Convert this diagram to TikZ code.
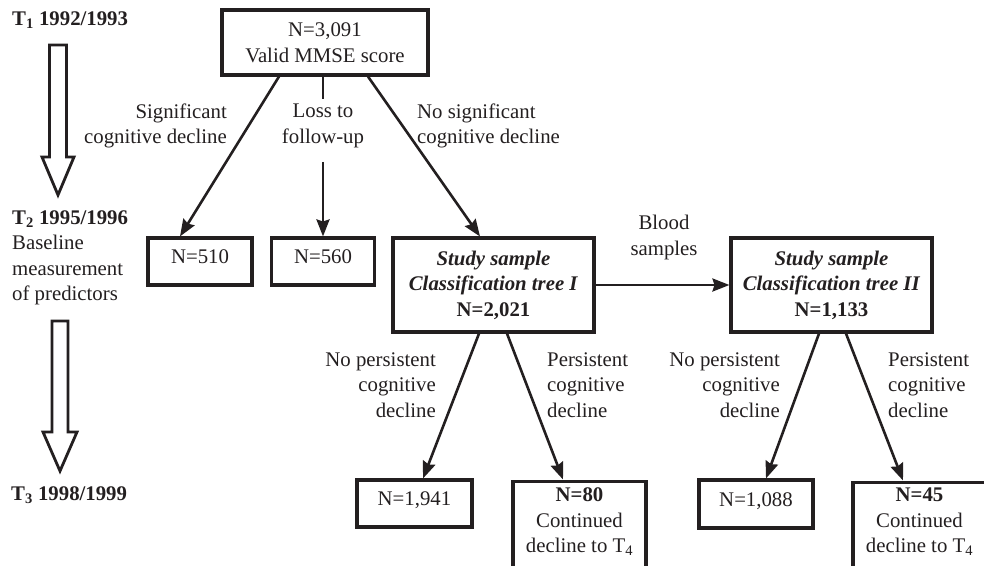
\documentclass[tikz,border=0pt]{standalone}
\usepackage{fontspec}
\setmainfont{Liberation Serif}
\usetikzlibrary{arrows.meta}
\definecolor{ink}{HTML}{231F20}
\begin{document}
\begin{tikzpicture}[x=1pt,y=-1pt,
  every node/.style={font=\fontsize{20.8}{25.5}\selectfont, text=ink},
  box/.style={draw=ink, line width=3.1pt, inner sep=0pt},
  small/.style={box, text height=14.5pt, text depth=10pt},
  lbl/.style={inner sep=0pt},
  conn/.style={draw=ink, line width=2.6pt, -{Stealth[length=17pt,width=13pt,inset=2pt]}},
  plain/.style={draw=ink, line width=2.6pt},
  hollow/.style={draw=ink, line width=2.8pt, line join=miter, fill=white}]
\useasboundingbox (0,0) rectangle (984,565);
\clip (0,0) rectangle (984,565);

% time line
\node[lbl, anchor=base west] (t1) at (12,25) {\textbf{T\textsubscript{1} 1992/1993}};
\node[lbl, anchor=base west] (t2) at (12,224) {\textbf{T\textsubscript{2} 1995/1996}};
\node[lbl, align=left, anchor=north west] (bl) at (12,235) {Baseline\\measurement\\of predictors};
\node[lbl, anchor=base west] (t3) at (11,500) {\textbf{T\textsubscript{3} 1998/1999}};
\draw[hollow] (49.5,45) -- (66.5,45) -- (66.5,157) -- (74,157) -- (58,195) -- (42,157) -- (49.5,157) -- cycle;
\draw[hollow] (52,321) -- (68,321) -- (68,432) -- (77,432) -- (60,471) -- (43,432) -- (52,432) -- cycle;

% boxes
\node[box, minimum width=206pt, minimum height=65pt, align=center] (top) at (325,42.5) {N=3,091\\Valid MMSE score};
\node[small, minimum width=104pt, minimum height=47pt] (n510) at (200,261.5) {N=510};
\node[small, minimum width=103pt, minimum height=47pt] (n560) at (323,261.5) {N=560};
\node[box, minimum width=201pt, minimum height=94pt, align=center] (s1) at (493.5,285) {\textbf{\textit{Study sample}}\\\textbf{\textit{Classification tree I}}\\\textbf{N=2,021}};
\node[box, minimum width=201pt, minimum height=94pt, align=center] (s2) at (831.5,285) {\textbf{\textit{Study sample}}\\\textbf{\textit{Classification tree II}}\\\textbf{N=1,133}};
\node[small, minimum width=115pt, minimum height=47pt] (n1941) at (414.5,503.5) {N=1,941};
\node[small, minimum width=114pt, minimum height=48pt] (n1088) at (756,504) {N=1,088};
\node[box, minimum width=133pt, minimum height=130pt, anchor=north] (n80) at (579.5,479.5) {};
\node[lbl, align=center] (n80t) at (579.5,522) {\textbf{N=80}\\Continued\\decline to T\textsubscript{4}};
\node[box, minimum width=133pt, minimum height=130pt, anchor=north] (n45) at (919.5,480.5) {};
\node[lbl, align=center] (n45t) at (919.5,522) {\textbf{N=45}\\Continued\\decline to T\textsubscript{4}};

% labels
\node[lbl, align=right, anchor=east] (lsig) at (227,126) {Significant\\cognitive decline};
\node[lbl, align=center] (lloss) at (323,126) {Loss to\\follow-up};
\node[lbl, align=left, anchor=west] (lnosig) at (417,126) {No significant\\cognitive decline};
\node[lbl, align=center] (lblood) at (664,237.5) {Blood\\samples};
\node[lbl, align=right, anchor=east] (lnp1) at (436,385) {No persistent\\cognitive\\decline};
\node[lbl, align=left, anchor=west] (lp1) at (547,385) {Persistent\\cognitive\\decline};
\node[lbl, align=right, anchor=east] (lnp2) at (780,385) {No persistent\\cognitive\\decline};
\node[lbl, align=left, anchor=west] (lp2) at (888,385) {Persistent\\cognitive\\decline};

% connectors
\draw[conn] ([xshift=-46pt]top.south) -- ([xshift=-20pt]n510.north);
\draw[plain] (lloss.north |- top.south) -- ([yshift=5pt]lloss.north);
\draw[conn] ([yshift=-14pt]lloss.south) -- (lloss.south |- n560.north);
\draw[conn] ([xshift=43pt]top.south) -- ([xshift=-13.5pt]s1.north);
\draw[conn] (s1.east) -- (s2.west);
\draw[conn] ([xshift=-14.5pt]s1.south) -- ([xshift=8.5pt]n1941.north);
\draw[conn] ([xshift=13.5pt]s1.south) -- ([xshift=-16.5pt]n80.north);
\draw[conn] ([xshift=-12.5pt]s2.south) -- ([xshift=10pt]n1088.north);
\draw[conn] ([xshift=14.5pt]s2.south) -- ([xshift=-16.5pt]n45.north);
\end{tikzpicture}
\end{document}
